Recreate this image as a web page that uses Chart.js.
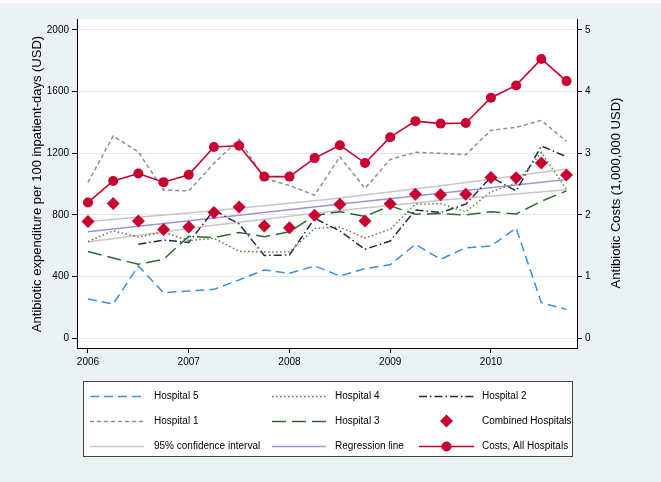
<!DOCTYPE html>
<html><head><meta charset="utf-8">
<script src="https://cdn.jsdelivr.net/npm/chart.js@4/dist/chart.umd.min.js"></script>
<style>html,body{margin:0;padding:0;background:#fff;}#wrap{width:661px;height:482px;}</style>
</head><body><div id="wrap"><canvas id="c" width="661" height="482"></canvas></div>
<script>
// ---- data ----
const quarters = [2006, 2006.25, 2006.5, 2006.75, 2007, 2007.25, 2007.5, 2007.75, 2008, 2008.25,
                  2008.5, 2008.75, 2009, 2009.25, 2009.5, 2009.75, 2010, 2010.25, 2010.5, 2010.75];
const costsAll = [2.20, 2.55, 2.67, 2.53, 2.65, 3.10, 3.12, 2.62, 2.62, 2.92,
                  3.13, 2.84, 3.26, 3.52, 3.48, 3.49, 3.90, 4.10, 4.53, 4.17];
const combined = [757, 873, 760, 704, 721, 815, 851, 727, 716, 797,
                  868, 760, 872, 934, 930, 933, 1042, 1041, 1137, 1058];
const hospital5 = [253, 221, 468, 294, 305, 316, 377, 442, 420, 468,
                   403, 450, 476, 608, 511, 586, 597, 714, 229, 186];
const hospital1 = [1010, 1312, 1208, 961, 955, 1134, 1290, 1037, 990, 928,
                   1177, 972, 1159, 1206, 1199, 1190, 1349, 1368, 1413, 1277];
const hospital4 = [627, 696, 656, 687, 633, 647, 563, 558, 558, 712,
                   721, 649, 706, 870, 872, 820, 950, 1004, 1205, 965];
const hospital3 = [562, 519, 479, 511, 660, 652, 685, 658, 690, 795,
                   820, 790, 858, 804, 808, 799, 820, 805, 888, 955];
const hospital2 = [null, null, 609, 636, 620, 831, 740, 536, 539, 777,
                   695, 576, 630, 831, 815, 869, 1045, 955, 1247, 1177];
const fitX = [2006, 2007.1875, 2008.375, 2009.5625, 2010.75];
const regression = [690, 775, 860, 945, 1030];
const ciUpper = [757, 823, 900, 993, 1097];
const ciLower = [623, 727, 820, 897, 963];
const xTicks = [2006, 2007, 2008, 2009, 2010];
const leftTicks = [0, 400, 800, 1200, 1600, 2000];
const rightTicks = [0, 1, 2, 3, 4, 5];

// ---- styling ----
const RED = '#c8002f';
const FONT = "'Liberation Sans', Arial, Helvetica, sans-serif";
const pts = arr => quarters.map((q, i) => ({x: q, y: arr[i]}));
const fit = arr => fitX.map((q, i) => ({x: q, y: arr[i]}));

function lineDs(label, data, color, dash, order, width) {
  return {label, data, borderColor: color, backgroundColor: color, borderDash: dash,
          borderWidth: width || 1.5, pointRadius: 0, pointHoverRadius: 0, fill: false,
          tension: 0, order, yAxisID: 'y', spanGaps: false, borderCapStyle: 'butt'};
}

const datasets = [
  {label: 'Costs, All Hospitals', data: pts(costsAll), yAxisID: 'y2', borderColor: RED,
   backgroundColor: RED, borderWidth: 1.6, pointRadius: 5, pointBorderWidth: 0,
   pointBackgroundColor: RED, pointStyle: 'circle', order: 0},
  {label: 'Combined Hospitals', data: pts(combined), yAxisID: 'y', showLine: false,
   pointStyle: 'rectRot', pointRadius: 6.5, pointBorderWidth: 0, pointBackgroundColor: RED,
   backgroundColor: RED, borderColor: RED, order: 1},
  lineDs('Hospital 5', pts(hospital5), '#3a8fe2', [9, 5], 2),
  lineDs('Hospital 4', pts(hospital4), '#5a7d3c', [1.5, 2.5], 3),
  lineDs('Hospital 2', pts(hospital2), '#1e2a48', [8, 3, 1.5, 3], 4),
  lineDs('Hospital 1', pts(hospital1), '#8c8c8c', [4, 3], 5),
  lineDs('Hospital 3', pts(hospital3), '#2b6b2b', [14, 6], 6),
  lineDs('Regression line', fit(regression), '#9d94d6', [], 7),
  lineDs('95% confidence interval', fit(ciUpper), '#c6c6c6', [], 8),
  lineDs('95% confidence interval (lower)', fit(ciLower), '#c6c6c6', [], 9),
];

const legendRows = [
  ['Hospital 5', 'Hospital 4', 'Hospital 2'],
  ['Hospital 1', 'Hospital 3', 'Combined Hospitals'],
  ['95% confidence interval', 'Regression line', 'Costs, All Hospitals']
];

const bgPlugin = {
  id: 'bg',
  beforeDraw(chart) {
    const {ctx, chartArea: a} = chart;
    ctx.save();
    ctx.fillStyle = '#ffffff';
    ctx.fillRect(0, 0, chart.width, chart.height);
    ctx.fillStyle = '#eaf2f3';
    ctx.fillRect(0, 3, chart.width, chart.height - 3);
    ctx.fillStyle = '#ffffff';
    ctx.fillRect(a.left, a.top, a.right - a.left, a.bottom - a.top);
    ctx.restore();
  }
};

const decoPlugin = {
  id: 'deco',
  afterDraw(chart) {
    const ctx = chart.ctx;
    ctx.save();
    // axis titles
    ctx.fillStyle = '#000';
    ctx.font = '13px ' + FONT;
    ctx.textAlign = 'center';
    ctx.textBaseline = 'middle';
    ctx.save(); ctx.translate(37, 184); ctx.rotate(-Math.PI / 2);
    ctx.fillText('Antibiotic expenditure per 100 inpatient-days (USD)', 0, 0); ctx.restore();
    ctx.save(); ctx.translate(616, 193); ctx.rotate(-Math.PI / 2);
    ctx.fillText('Antibiotic Costs (1,000,000 USD)', 0, 0); ctx.restore();

    // legend box
    const bx = 83.5, by = 381.5, bw = 489, bh = 75;
    ctx.fillStyle = '#fff';
    ctx.fillRect(bx, by, bw, bh);
    ctx.strokeStyle = '#444';
    ctx.lineWidth = 1;
    ctx.strokeRect(bx, by, bw, bh);
    const sampleX = [[90, 144], [272, 326], [419, 474]];
    const textX = [154, 335, 482];
    const rowY = [396, 421, 446];
    ctx.font = '10px ' + FONT;
    ctx.textAlign = 'left';
    legendRows.forEach((row, r) => {
      row.forEach((label, c) => {
        const ds = chart.data.datasets.find(d => d.label === label);
        const y = rowY[r];
        const [x0, x1] = sampleX[c];
        const xm = (x0 + x1) / 2;
        ctx.save();
        if (ds.showLine !== false) {
          ctx.strokeStyle = ds.borderColor;
          ctx.lineWidth = ds.borderWidth;
          ctx.setLineDash(ds.borderDash || []);
          ctx.beginPath(); ctx.moveTo(x0, y + 0.5); ctx.lineTo(x1, y + 0.5); ctx.stroke();
          ctx.setLineDash([]);
        }
        if (ds.pointStyle === 'rectRot') {
          const s = ds.pointRadius;
          ctx.fillStyle = ds.pointBackgroundColor;
          ctx.beginPath(); ctx.moveTo(xm, y - s); ctx.lineTo(xm + s, y); ctx.lineTo(xm, y + s);
          ctx.lineTo(xm - s, y); ctx.closePath(); ctx.fill();
        } else if (ds.pointStyle === 'circle' && ds.pointRadius > 0) {
          ctx.fillStyle = ds.pointBackgroundColor;
          ctx.beginPath(); ctx.arc(xm, y + 0.5, ds.pointRadius, 0, Math.PI * 2); ctx.fill();
        }
        ctx.restore();
        ctx.fillStyle = '#000';
        ctx.textBaseline = 'middle';
        ctx.fillText(label, textX[c], y + 0.5);
      });
    });
    ctx.restore();
  }
};

const tickFont = {family: FONT, size: 10};
new Chart(document.getElementById('c'), {
  type: 'line',
  data: {datasets},
  options: {
    responsive: false, animation: false, devicePixelRatio: 1,
    layout: {padding: {top: 19, left: 0, right: 0, bottom: 0}},
    plugins: {legend: {display: false}, tooltip: {enabled: false}},
    scales: {
      x: {
        type: 'linear', position: 'bottom', min: 2005.891, max: 2010.854,
        afterBuildTicks: s => { s.ticks = xTicks.map(v => ({value: v})); },
        afterFit: s => { s.height = 134; },
        grid: {drawOnChartArea: false, drawTicks: true, tickLength: 5, tickColor: '#000', lineWidth: 1},
        border: {display: true, color: '#000', width: 1},
        ticks: {color: '#000', font: tickFont, padding: 3, maxRotation: 0, callback: v => String(v)}
      },
      y: {
        type: 'linear', position: 'left', min: -64.9, max: 2071.4,
        afterBuildTicks: s => { s.ticks = leftTicks.map(v => ({value: v})); },
        afterFit: s => { s.width = 77; },
        grid: {color: '#e0e9ec', lineWidth: 1, drawTicks: true, tickLength: 5, tickColor: '#000'},
        border: {display: true, color: '#000', width: 1},
        ticks: {color: '#000', font: tickFont, padding: 3, callback: v => String(v)}
      },
      y2: {
        type: 'linear', position: 'right', min: -0.162, max: 5.178,
        afterBuildTicks: s => { s.ticks = rightTicks.map(v => ({value: v})); },
        afterFit: s => { s.width = 84; },
        grid: {drawOnChartArea: false, drawTicks: true, tickLength: 5, tickColor: '#000'},
        border: {display: true, color: '#000', width: 1},
        ticks: {color: '#000', font: tickFont, padding: 3, callback: v => String(v)}
      }
    }
  },
  plugins: [bgPlugin, decoPlugin]
});
</script>
</body></html>
